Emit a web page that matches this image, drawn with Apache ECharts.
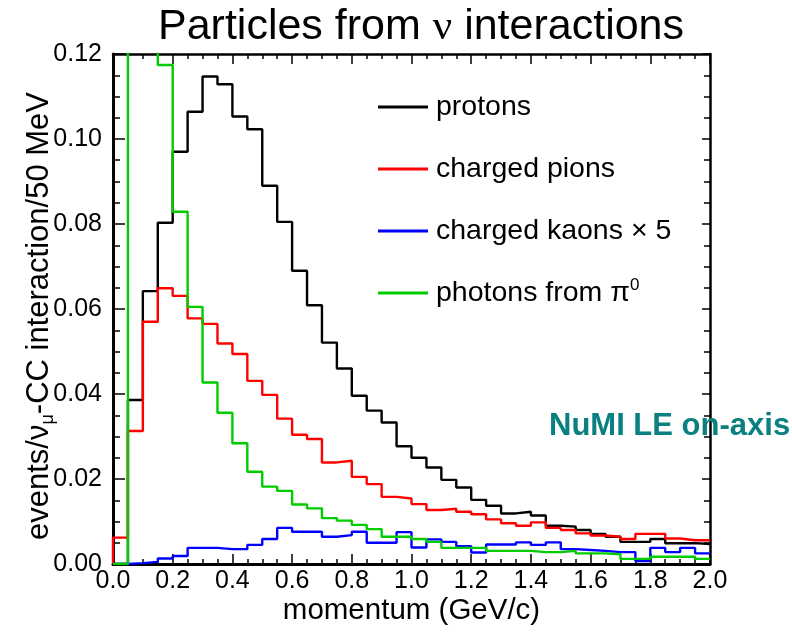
<!DOCTYPE html>
<html>
<head>
<meta charset="utf-8">
<script src="https://cdn.jsdelivr.net/npm/echarts@6/dist/echarts.min.js"></script>
<style>
  html, body { margin: 0; padding: 0; background: #fff; }
  #chart { width: 792px; height: 635px; }
</style>
</head>
<body>
<div id="chart"></div>
<script>
// Momentum histograms, 50 MeV bins from 0 to 2 GeV/c
const binWidth = 0.05;

const protons = [
  0.0000, 0.0386, 0.0642, 0.0803, 0.0970, 0.1064, 0.1147, 0.1129, 0.1053, 0.1023,
  0.0890, 0.0805, 0.0690, 0.0609, 0.0521, 0.0460, 0.0396, 0.0361, 0.0333, 0.0277,
  0.0250, 0.0227, 0.0198, 0.0180, 0.0151, 0.0137, 0.0119, 0.0123, 0.0114, 0.0090,
  0.0088, 0.0080, 0.0071, 0.0064, 0.0052, 0.0052, 0.0059, 0.0049, 0.0049, 0.0047
];

const chargedPions = [
  0.0062, 0.0313, 0.0570, 0.0649, 0.0631, 0.0578, 0.0565, 0.0519, 0.0494, 0.0431,
  0.0398, 0.0342, 0.0304, 0.0294, 0.0239, 0.0243, 0.0205, 0.0188, 0.0158, 0.0154,
  0.0141, 0.0127, 0.0130, 0.0123, 0.0117, 0.0105, 0.0096, 0.0090, 0.0098, 0.0085,
  0.0080, 0.0072, 0.0067, 0.0064, 0.0059, 0.0071, 0.0071, 0.0060, 0.0056, 0.0056
];

// kaon yields already scaled by 5
const chargedKaonsX5 = [
  0.0000, 0.0002, 0.0005, 0.0013, 0.0019, 0.0038, 0.0038, 0.0035, 0.0035, 0.0045,
  0.0059, 0.0085, 0.0076, 0.0076, 0.0064, 0.0068, 0.0076, 0.0050, 0.0050, 0.0075,
  0.0039, 0.0058, 0.0052, 0.0042, 0.0027, 0.0046, 0.0046, 0.0051, 0.0045, 0.0051,
  0.0035, 0.0033, 0.0031, 0.0028, 0.0028, 0.0007, 0.0038, 0.0028, 0.0038, 0.0025
];

// the two lowest non-empty bins run off the top of the frame
const photonsPi0 = [
  0.0000, 0.2500, 0.1600, 0.1174, 0.0829, 0.0605, 0.0427, 0.0356, 0.0284, 0.0217,
  0.0182, 0.0172, 0.0140, 0.0131, 0.0108, 0.0102, 0.0092, 0.0082, 0.0064, 0.0064,
  0.0059, 0.0052, 0.0038, 0.0038, 0.0038, 0.0031, 0.0031, 0.0031, 0.0028, 0.0028,
  0.0031, 0.0025, 0.0025, 0.0023, 0.0012, 0.0012, 0.0017, 0.0017, 0.0017, 0.0012
];

const seriesNames = ['protons', 'charged pions', 'charged kaons \u00d7 5', 'photons from \u03c00'];
const seriesColors = ['#000000', '#ff0000', '#0000ff', '#00cc00'];

const FONT = '"Liberation Sans", Arial, Helvetica, sans-serif';

// step outline: one point per lower bin edge plus the closing edge
function histPoints(values) {
  const pts = [[0, 0]];
  values.forEach((v, i) => pts.push([i * binWidth, v]));
  pts.push([values.length * binWidth, values[values.length - 1]]);
  return pts;
}

const frameAxis = {
  axisLine: { show: true, onZero: false, lineStyle: { color: '#000', width: 2.5 } },
  axisTick: { show: true, inside: true, length: 10, lineStyle: { color: '#000', width: 1.5 } },
  minorTick: { show: true, splitNumber: 4, length: 5, lineStyle: { color: '#000', width: 1.5 } },
  splitLine: { show: false },
  minorSplitLine: { show: false }
};

const chart = echarts.init(document.getElementById('chart'), null, { renderer: 'canvas' });

chart.setOption({
  backgroundColor: '#ffffff',
  animation: false,
  title: [
    {
      text: 'Particles from {nu|\u03bd} interactions',
      left: 416,
      textAlign: 'center',
      top: 1,
      textStyle: {
        fontFamily: FONT, fontSize: 43, fontWeight: 'normal', color: '#000',
        rich: { nu: { fontFamily: '"Liberation Serif", "Times New Roman", serif', fontSize: 43, color: '#000' } }
      }
    },
    {
      text: 'NuMI LE on-axis',
      left: 544,
      top: 406,
      textStyle: { fontFamily: FONT, fontSize: 31, fontWeight: 'bold', color: '#0a8080' }
    }
  ],
  legend: {
    orient: 'vertical',
    left: 373,
    top: 86,
    icon: 'rect',
    itemWidth: 50,
    itemHeight: 3,
    itemGap: 30,
    selectedMode: false,
    data: seriesNames,
    formatter: name => name === seriesNames[3] ? 'photons from {pi|\u03c0}{sup|0}' : name,
    textStyle: {
      fontFamily: FONT, fontSize: 28.5, color: '#000', lineHeight: 32, padding: [0, 0, 0, 3],
      rich: {
        pi: { fontFamily: FONT, fontSize: 28.5, color: '#000', lineHeight: 32 },
        sup: { fontFamily: FONT, fontSize: 17, color: '#000', lineHeight: 20, verticalAlign: 'top' }
      }
    }
  },
  grid: { left: 113, right: 82, top: 54, bottom: 71, containLabel: false },
  xAxis: [
    Object.assign({}, frameAxis, {
      type: 'value', position: 'bottom', min: 0, max: 2, interval: 0.2,
      axisLine: { show: true, onZero: false, lineStyle: { color: '#000', width: 3 } },
      axisLabel: { show: true, fontFamily: FONT, fontSize: 25, color: '#000', margin: 5,
                   formatter: v => v.toFixed(1) },
      name: 'momentum (GeV/c)',
      nameLocation: 'middle',
      nameGap: 32,
      nameMoveOverlap: false,
      nameTextStyle: { fontFamily: FONT, fontSize: 29.5, color: '#000' }
    }),
    Object.assign({}, frameAxis, {
      type: 'value', position: 'top', min: 0, max: 2, interval: 0.2,
      axisLabel: { show: false }
    })
  ],
  yAxis: [
    Object.assign({}, frameAxis, {
      type: 'value', position: 'left', min: 0, max: 0.12, interval: 0.02,
      axisLine: { show: true, onZero: false, lineStyle: { color: '#000', width: 3 } },
      axisTick: { show: true, inside: true, length: 12, lineStyle: { color: '#000', width: 1.5 } },
      minorTick: { show: true, splitNumber: 4, length: 7, lineStyle: { color: '#000', width: 1.5 } },
      axisLabel: { show: true, fontFamily: FONT, fontSize: 25, color: '#000', margin: 11,
                   formatter: v => v.toFixed(2) },
      name: 'events/\u03bd{sub|\u03bc}-CC interaction/50 MeV',
      nameLocation: 'middle',
      nameRotate: 90,
      nameGap: 56,
      nameMoveOverlap: false,
      nameTextStyle: {
        fontFamily: FONT, fontSize: 31, color: '#000', padding: [0, 14, 0, 0],
        rich: { sub: { fontFamily: FONT, fontSize: 18, color: '#000', padding: [18, 0, 0, 0] } }
      }
    }),
    Object.assign({}, frameAxis, {
      type: 'value', position: 'right', min: 0, max: 0.12, interval: 0.02,
      axisTick: { show: true, inside: true, length: 8, lineStyle: { color: '#000', width: 1.5 } },
      minorTick: { show: true, splitNumber: 4, length: 6, lineStyle: { color: '#000', width: 1.5 } },
      axisLabel: { show: false }
    })
  ],
  series: [protons, chargedPions, chargedKaonsX5, photonsPi0].map((vals, i) => ({
    name: seriesNames[i],
    type: 'line',
    step: 'end',
    xAxisIndex: 0,
    yAxisIndex: 0,
    data: histPoints(vals),
    showSymbol: false,
    symbol: 'none',
    clip: true,
    color: seriesColors[i],
    lineStyle: { color: seriesColors[i], width: 2.4 },
    z: 2 + i
  }))
});
</script>
</body>
</html>
